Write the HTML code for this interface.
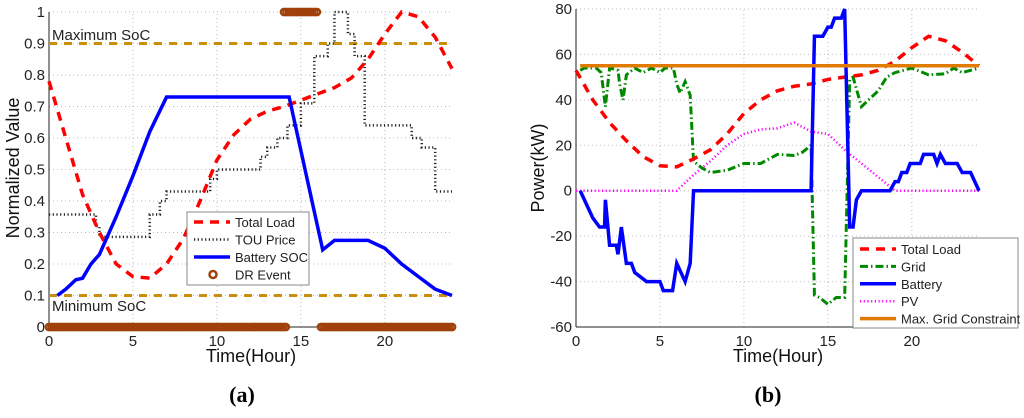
<!DOCTYPE html>
<html><head><meta charset="utf-8"><style>
body{margin:0;background:#fff;width:1024px;height:413px;overflow:hidden}
svg{font-family:"Liberation Sans",sans-serif}
</style></head><body>
<svg id="s" width="1024" height="413" xmlns="http://www.w3.org/2000/svg"></svg>
<script>
// ---- Chart (a) data ----
const loadT=[0,1,2,3,4,5,6,7,8,9,10,11,12,13,14,15,16,17,18,19,20,21,22,23,24];
const loadA=[.78,.6,.42,.3,.2,.16,.155,.2,.28,.4,.53,.61,.66,.685,.7,.72,.74,.76,.79,.85,.93,1.0,.985,.92,.82];
const touT=[0,2.8,3,6,6.6,7,9.6,10,12.6,13,13.6,14.2,15,15.8,16.6,17,17.8,18.2,18.8,21.6,22.2,23,24];
const touV=[.357,.32,.286,.357,.4,.43,.47,.5,.54,.57,.6,.64,.71,.86,.9,1.0,.93,.86,.64,.6,.57,.43,.43];
const socT=[0.5,1,1.6,2,2.5,3,4,5,6,7,14.3,16.3,17,19,20,21,22,23,24];
const socV=[.1,.12,.15,.155,.2,.23,.35,.48,.62,.73,.73,.245,.275,.275,.25,.2,.16,.12,.1];
const drOffT=[0,14.2,16.2,24];
const drOnT=[14,16];
const aTicksX=[0,5,10,15,20];
const aTicksY=[0,.1,.2,.3,.4,.5,.6,.7,.8,.9,1];
// ---- Chart (b) data ----
const bLoadT=[0,1,2,3,4,5,6,7,8,9,10,11,12,13,14,15,16,17,18,19,20,21,22,23,24];
const bLoadV=[53,40,30,22,15,11,10.5,14,18,25,34,40,44,46,47,49,50,51,53,57,63,68,66,61,55];
const gridT=[0.25,0.5,1.2,1.5,1.75,2,2.5,2.6,2.8,3,3.5,4,4.5,5,5.3,5.8,6,6.2,6.5,6.8,7,7.5,8,9,10,11,12,13,13.5,14,14.2,14.5,15,15.5,16,16.3,16.5,17,18,18.5,19,19.5,20,21,22,22.5,23,23.5,24];
const gridV=[53,54,54,52,37,54,53,47,40,51,54,52,54,52,54,54,47,43,48,42,13,10,8,9,12,12,16,15.5,17,20,-46,-47,-50,-47,-47,49,50,37,44,50,52,53,54,51,51.5,54,52,53,54];
const batT=[0.25,1,1.4,1.7,1.75,2,2.4,2.5,2.7,3,3.3,3.5,4.2,5,5.2,5.75,6,6.5,6.8,7,14,14.2,14.7,15,15.2,15.4,15.8,16,16.3,16.5,16.7,17,18.7,19,19.2,19.4,19.7,19.9,20.5,20.7,21.3,21.5,21.7,22,22.7,23,23.5,24];
const batV=[0,-12,-16,-16,-4,-24,-24,-28,-16,-32,-32,-36,-40,-40,-44,-44,-32,-40,-32,0,0,68,68,72,72,76,76,80,-16,-16,-4,0,0,4,4,8,8,12,12,16,16,12,16,12,12,8,8,0];
const pvT=[0,6,7,8,9,10,11,12,13,14,15,16,17,18,19,24];
const pvV=[0,0,7,13,20,25,27,27.5,30,26,25,18,12,6,0,0];
const bTicksX=[0,5,10,15,20];
const bTicksY=[-60,-40,-20,0,20,40,60,80];
const gridMax=55;

const S=document.getElementById('s');const NS='http://www.w3.org/2000/svg';
function el(t,a,p){const e=document.createElementNS(NS,t);for(const k in a)e.setAttribute(k,a[k]);(p||S).appendChild(e);return e;}
function txt(x,y,s,a,p){const e=el('text',Object.assign({x:x,y:y},a),p);e.textContent=s;return e;}

function chart(name,x0,x1,y0,y1,ymin,ymax,xt,yt,fmt){
  const g=el('g',{});
  
  
  const X=v=>x0+(x1-x0)*v/24, Y=v=>y0-(y0-y1)*(v-ymin)/(ymax-ymin);
  xt.forEach(v=>{const l=el('line',{x1:X(v),x2:X(v),y1:y0,y2:y1,stroke:'#bbb','stroke-dasharray':'1,3'},g);
    
    const t=txt(X(v),y0+19,String(v),{'font-size':15,'text-anchor':'middle',fill:'#222'},g);
    });
  yt.forEach(v=>{const l=el('line',{x1:x0,x2:x1,y1:Y(v),y2:Y(v),stroke:'#bbb','stroke-dasharray':'1,3'},g);
    
    const t=txt(x0-4,Y(v)+5,fmt(v),{'font-size':15,'text-anchor':'end',fill:'#222'},g);
    });
  el('line',{x1:x0,x2:x0,y1:y0,y2:y1,stroke:'#222'},g);
  el('line',{x1:x0,x2:x1,y1:y0,y2:y0,stroke:'#222'},g);
  return {g,X,Y};
}
function poly(c,T,V,st,name){const p=el('polyline',Object.assign({points:T.map((t,i)=>c.X(t)+','+c.Y(V[i])).join(' '),fill:'none'},st),c.g);
  return p;}
function stepPts(T,V){const t=[],v=[];for(let i=0;i<T.length;i++){if(i>0){t.push(T[i]);v.push(V[i-1]);}t.push(T[i]);v.push(V[i]);}return [t,v];}

// ---- (a) ----
const A=chart('chart-a',49,452,327,12,0,1,aTicksX,aTicksY,v=>String(v));
[.9,.1].forEach(v=>{const l=el('line',{x1:A.X(0),x2:A.X(24),y1:A.Y(v),y2:A.Y(v),stroke:'#c8900a','stroke-width':3,'stroke-dasharray':'8,7'},A.g);
  });
let t1=txt(52,40,'Maximum SoC',{'font-size':15,fill:'#222'},A.g);
let t2=txt(52,311,'Minimum SoC',{'font-size':15,fill:'#222'},A.g);
const sp=stepPts(touT,touV);
poly(A,sp[0],sp[1],{stroke:'#222','stroke-width':2.5,'stroke-dasharray':'1.2,2.5'},'tou-price-line');
poly(A,loadT,loadA,{stroke:'#f00','stroke-width':3.5,'stroke-dasharray':'9,7'},'total-load-line');
poly(A,socT,socV,{stroke:'#00f','stroke-width':3.5},'battery-soc-line');
function drRun(a,b,y){for(let t=a;t<=b+1e-6;t+=0.15){const c=el('circle',{cx:A.X(t),cy:A.Y(y),r:3.3,fill:'none',stroke:'#a0400a','stroke-width':2.2},A.g);
  }}
drRun(drOffT[0],drOffT[1],0);drRun(drOffT[2],drOffT[3],0);drRun(drOnT[0],drOnT[1],1);
let at=txt(251,362,'Time(Hour)',{'font-size':18,'text-anchor':'middle',fill:'#111'});
let ay=txt(0,0,'Normalized Value',{'font-size':18,'text-anchor':'middle',fill:'#111',transform:'translate(19,168) rotate(-90)'});
let ac=txt(242,402,'(a)',{'font-size':22,'text-anchor':'middle','font-family':'Liberation Serif,serif','font-weight':'bold'});
// legend a
const LA=el('g',{});
el('rect',{x:187,y:212,width:122,height:73,fill:'#fff',stroke:'#888'},LA);
[['Total Load',{stroke:'#f00','stroke-width':3.5,'stroke-dasharray':'9,7'}],['TOU Price',{stroke:'#222','stroke-width':2.5,'stroke-dasharray':'1.2,2.5'}],['Battery SOC',{stroke:'#00f','stroke-width':3.5}],['DR Event',null]].forEach((e,i)=>{
  const y=222+i*17.5;const g=el('g',{},LA);
  if(e[1])el('line',Object.assign({x1:194,x2:230,y1:y,y2:y},e[1]),g);else el('circle',{cx:213,cy:y,r:3.5,fill:'none',stroke:'#a0400a','stroke-width':2.5},g);
  txt(235,y+5,e[0],{'font-size':13,fill:'#222'},g);});

// ---- (b) ----
const B=chart('chart-b',576,979,327,9,-60,80,bTicksX,bTicksY,v=>String(v));
poly(B,pvT,pvV,{stroke:'#f0f','stroke-width':2.5,'stroke-dasharray':'1.2,2.5'},'pv-line');
poly(B,gridT,gridV,{stroke:'#080','stroke-width':3,'stroke-dasharray':'8,3,1.5,3'},'grid-line');
poly(B,bLoadT,bLoadV,{stroke:'#f00','stroke-width':3.5,'stroke-dasharray':'9,7'},'total-load-line-b');
poly(B,batT,batV,{stroke:'#00f','stroke-width':3.5},'battery-line');
poly(B,[0.25,24],[gridMax,gridMax],{stroke:'#e07b00','stroke-width':3.5},'max-grid-constraint-line');
let bt=txt(778,362,'Time(Hour)',{'font-size':18,'text-anchor':'middle',fill:'#111'});
let by=txt(0,0,'Power(kW)',{'font-size':18,'text-anchor':'middle',fill:'#111',transform:'translate(544,168) rotate(-90)'});
let bc=txt(768,402,'(b)',{'font-size':22,'text-anchor':'middle','font-family':'Liberation Serif,serif','font-weight':'bold'});
const LB=el('g',{});
el('rect',{x:853,y:238,width:165,height:90,fill:'#fff',stroke:'#888'},LB);
[['Total Load',{stroke:'#f00','stroke-width':3.5,'stroke-dasharray':'9,7'}],['Grid',{stroke:'#080','stroke-width':3,'stroke-dasharray':'8,3,1.5,3'}],['Battery',{stroke:'#00f','stroke-width':3.5}],['PV',{stroke:'#f0f','stroke-width':2.5,'stroke-dasharray':'1.2,2.5'}],['Max. Grid Constraint',{stroke:'#e07b00','stroke-width':3.5}]].forEach((e,i)=>{
  const y=249+i*17.4;const g=el('g',{},LB);
  el('line',Object.assign({x1:860,x2:896,y1:y,y2:y},e[1]),g);
  txt(901,y+5,e[0],{'font-size':13,fill:'#222'},g);});
</script>
</body></html>
